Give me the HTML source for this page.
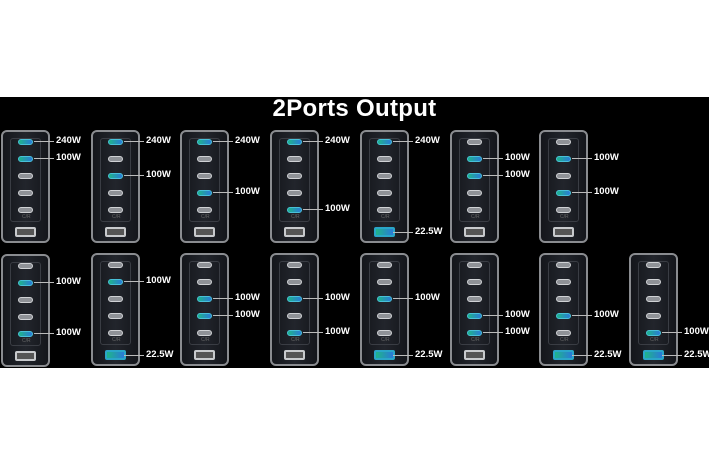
<!DOCTYPE html>
<html><head><meta charset="utf-8"><style>
*{margin:0;padding:0;box-sizing:border-box}
body{width:709px;height:466px;background:#fff;position:relative;overflow:hidden;font-family:"Liberation Sans",sans-serif}
#band{position:absolute;left:0;top:97px;width:709px;height:271px;background:#000}
#title{position:absolute;left:0;width:709px;top:95px;text-align:center;color:#fff;font-weight:bold;font-size:24px;letter-spacing:0.3px}
.c{position:absolute;width:49px;height:113px;border:2px solid #8a8c90;border-radius:6px;background:linear-gradient(90deg,#14161b,#22252c 50%,#14161b)}
.f{position:absolute;left:7px;top:6px;width:31px;height:84px;border:1px solid #3a3d44;border-radius:3px}
.p{position:absolute;left:15px;width:15px;height:6px;border-radius:3px;background:#8f9297;border:1px solid #d0d2d5;margin-top:-3px}
.p.on{background:linear-gradient(90deg,#1fb58a,#2a7ad8);border-color:#49c0d8}
.a{position:absolute;left:12px;top:95px;width:21px;height:10px;border-radius:2px;border:2px solid #c8cacd;background:#555}
.a.on{border-color:#2aa6c8;background:linear-gradient(90deg,#1fb58a,#2a7ad8)}
.t{position:absolute;font-size:5px;color:#666;left:19px;top:82px}
.l{position:absolute;height:1px;background:#bbb;left:31px;width:20px;margin-top:-3px}
.w{position:absolute;left:53px;color:#fff;font-weight:bold;font-size:9.5px;line-height:10px;margin-top:-3px}
</style></head><body>
<div id="band"></div>
<div id="title">2Ports Output</div>

<!-- row 1 -->
<div class="c" style="left:1px;top:130px"><div class="f"></div><div class="p on" style="top:10px"></div><div class="p on" style="top:27px"></div><div class="p" style="top:44px"></div><div class="p" style="top:61px"></div><div class="p" style="top:78px"></div><div class="t">C/R</div><div class="a"></div>
<div class="l" style="top:12px"></div><div class="w" style="top:7px">240W</div><div class="l" style="top:29px"></div><div class="w" style="top:24px">100W</div></div>

<div class="c" style="left:91px;top:130px"><div class="f"></div><div class="p on" style="top:10px"></div><div class="p" style="top:27px"></div><div class="p on" style="top:44px"></div><div class="p" style="top:61px"></div><div class="p" style="top:78px"></div><div class="t">C/R</div><div class="a"></div>
<div class="l" style="top:12px"></div><div class="w" style="top:7px">240W</div><div class="l" style="top:46px"></div><div class="w" style="top:41px">100W</div></div>

<div class="c" style="left:180px;top:130px"><div class="f"></div><div class="p on" style="top:10px"></div><div class="p" style="top:27px"></div><div class="p" style="top:44px"></div><div class="p on" style="top:61px"></div><div class="p" style="top:78px"></div><div class="t">C/R</div><div class="a"></div>
<div class="l" style="top:12px"></div><div class="w" style="top:7px">240W</div><div class="l" style="top:63px"></div><div class="w" style="top:58px">100W</div></div>

<div class="c" style="left:270px;top:130px"><div class="f"></div><div class="p on" style="top:10px"></div><div class="p" style="top:27px"></div><div class="p" style="top:44px"></div><div class="p" style="top:61px"></div><div class="p on" style="top:78px"></div><div class="t">C/R</div><div class="a"></div>
<div class="l" style="top:12px"></div><div class="w" style="top:7px">240W</div><div class="l" style="top:80px"></div><div class="w" style="top:75px">100W</div></div>

<div class="c" style="left:360px;top:130px"><div class="f"></div><div class="p on" style="top:10px"></div><div class="p" style="top:27px"></div><div class="p" style="top:44px"></div><div class="p" style="top:61px"></div><div class="p" style="top:78px"></div><div class="t">C/R</div><div class="a on"></div>
<div class="l" style="top:12px"></div><div class="w" style="top:7px">240W</div><div class="l" style="top:103px"></div><div class="w" style="top:98px">22.5W</div></div>

<div class="c" style="left:450px;top:130px"><div class="f"></div><div class="p" style="top:10px"></div><div class="p on" style="top:27px"></div><div class="p on" style="top:44px"></div><div class="p" style="top:61px"></div><div class="p" style="top:78px"></div><div class="t">C/R</div><div class="a"></div>
<div class="l" style="top:29px"></div><div class="w" style="top:24px">100W</div><div class="l" style="top:46px"></div><div class="w" style="top:41px">100W</div></div>

<div class="c" style="left:539px;top:130px"><div class="f"></div><div class="p" style="top:10px"></div><div class="p on" style="top:27px"></div><div class="p" style="top:44px"></div><div class="p on" style="top:61px"></div><div class="p" style="top:78px"></div><div class="t">C/R</div><div class="a"></div>
<div class="l" style="top:29px"></div><div class="w" style="top:24px">100W</div><div class="l" style="top:63px"></div><div class="w" style="top:58px">100W</div></div>

<!-- row 2 -->
<div class="c" style="left:1px;top:254px"><div class="f"></div><div class="p" style="top:10px"></div><div class="p on" style="top:27px"></div><div class="p" style="top:44px"></div><div class="p" style="top:61px"></div><div class="p on" style="top:78px"></div><div class="t">C/R</div><div class="a"></div>
<div class="l" style="top:29px"></div><div class="w" style="top:24px">100W</div><div class="l" style="top:80px"></div><div class="w" style="top:75px">100W</div></div>

<div class="c" style="left:91px;top:253px"><div class="f"></div><div class="p" style="top:10px"></div><div class="p on" style="top:27px"></div><div class="p" style="top:44px"></div><div class="p" style="top:61px"></div><div class="p" style="top:78px"></div><div class="t">C/R</div><div class="a on"></div>
<div class="l" style="top:29px"></div><div class="w" style="top:24px">100W</div><div class="l" style="top:103px"></div><div class="w" style="top:98px">22.5W</div></div>

<div class="c" style="left:180px;top:253px"><div class="f"></div><div class="p" style="top:10px"></div><div class="p" style="top:27px"></div><div class="p on" style="top:44px"></div><div class="p on" style="top:61px"></div><div class="p" style="top:78px"></div><div class="t">C/R</div><div class="a"></div>
<div class="l" style="top:46px"></div><div class="w" style="top:41px">100W</div><div class="l" style="top:63px"></div><div class="w" style="top:58px">100W</div></div>

<div class="c" style="left:270px;top:253px"><div class="f"></div><div class="p" style="top:10px"></div><div class="p" style="top:27px"></div><div class="p on" style="top:44px"></div><div class="p" style="top:61px"></div><div class="p on" style="top:78px"></div><div class="t">C/R</div><div class="a"></div>
<div class="l" style="top:46px"></div><div class="w" style="top:41px">100W</div><div class="l" style="top:80px"></div><div class="w" style="top:75px">100W</div></div>

<div class="c" style="left:360px;top:253px"><div class="f"></div><div class="p" style="top:10px"></div><div class="p" style="top:27px"></div><div class="p on" style="top:44px"></div><div class="p" style="top:61px"></div><div class="p" style="top:78px"></div><div class="t">C/R</div><div class="a on"></div>
<div class="l" style="top:46px"></div><div class="w" style="top:41px">100W</div><div class="l" style="top:103px"></div><div class="w" style="top:98px">22.5W</div></div>

<div class="c" style="left:450px;top:253px"><div class="f"></div><div class="p" style="top:10px"></div><div class="p" style="top:27px"></div><div class="p" style="top:44px"></div><div class="p on" style="top:61px"></div><div class="p on" style="top:78px"></div><div class="t">C/R</div><div class="a"></div>
<div class="l" style="top:63px"></div><div class="w" style="top:58px">100W</div><div class="l" style="top:80px"></div><div class="w" style="top:75px">100W</div></div>

<div class="c" style="left:539px;top:253px"><div class="f"></div><div class="p" style="top:10px"></div><div class="p" style="top:27px"></div><div class="p" style="top:44px"></div><div class="p on" style="top:61px"></div><div class="p" style="top:78px"></div><div class="t">C/R</div><div class="a on"></div>
<div class="l" style="top:63px"></div><div class="w" style="top:58px">100W</div><div class="l" style="top:103px"></div><div class="w" style="top:98px">22.5W</div></div>

<div class="c" style="left:629px;top:253px"><div class="f"></div><div class="p" style="top:10px"></div><div class="p" style="top:27px"></div><div class="p" style="top:44px"></div><div class="p" style="top:61px"></div><div class="p on" style="top:78px"></div><div class="t">C/R</div><div class="a on"></div>
<div class="l" style="top:80px"></div><div class="w" style="top:75px">100W</div><div class="l" style="top:103px"></div><div class="w" style="top:98px">22.5W</div></div>
</body></html>
